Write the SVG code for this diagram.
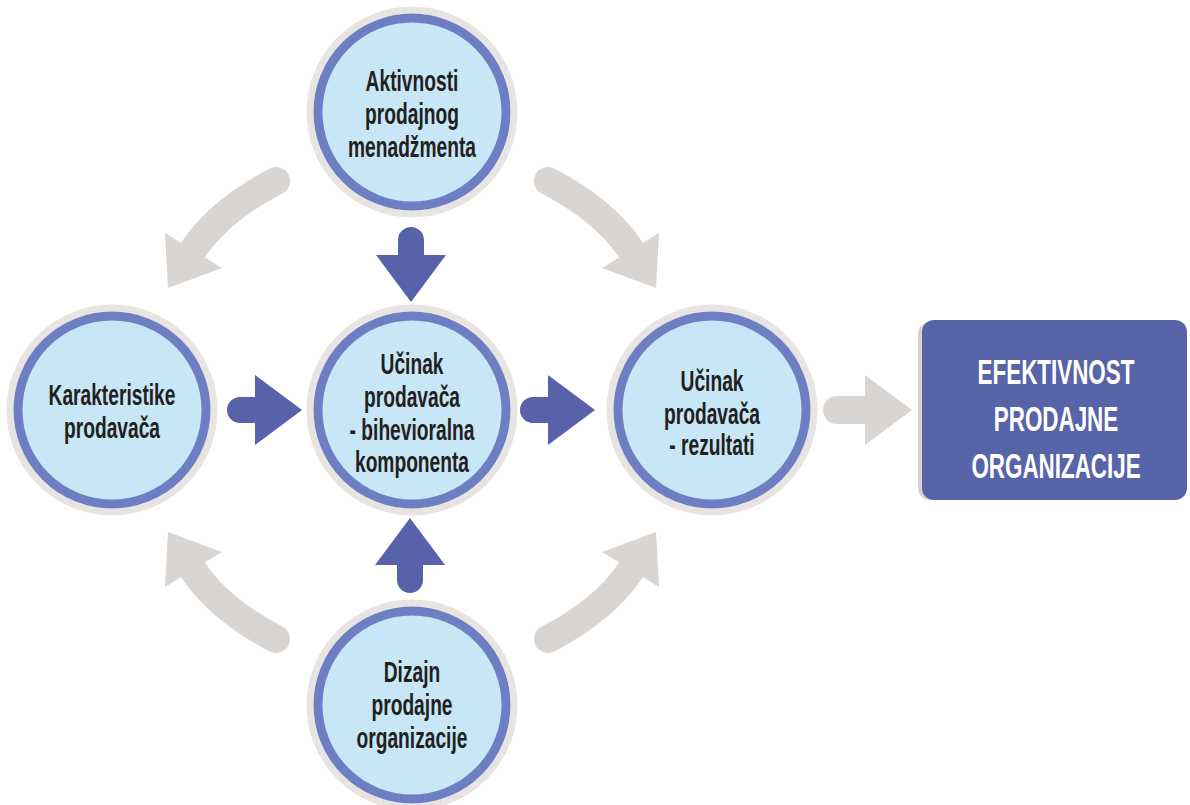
<svg xmlns="http://www.w3.org/2000/svg" width="1190" height="805" viewBox="0 0 1190 805">
<style>
.ring-out{fill:none;stroke:#e8e4e1;stroke-width:7}
.ring{fill:#c7e6f6;stroke:#6d7fc2;stroke-width:9}
.lbl{font-family:"Liberation Sans",Arial,sans-serif;font-weight:bold;font-size:30px;fill:#231f20;text-anchor:middle}
.blbl{font-family:"Liberation Sans",Arial,sans-serif;font-weight:bold;font-size:35px;fill:#ffffff;text-anchor:middle}
.dk{fill:#5762aa}
.gr{fill:#d9d5d3}
.grs{fill:none;stroke:#d9d5d3;stroke-width:28;stroke-linecap:round}
</style>
<defs>
<path id="darr" d="M13,-13 H28 V-35 L75,0 L28,35 V13 H13 A13,13 0 0 1 13,-13 Z"/>
<g id="carr">
<path class="grs" d="M276,181 Q220,210 193,250"/>
<polygon class="gr" points="165,233 222,268 168,288"/>
</g>
</defs>
<rect width="1190" height="805" fill="#ffffff"/>
<g id="connectors">
<use href="#carr"/>
<use href="#carr" transform="translate(824,0) scale(-1,1)"/>
<use href="#carr" transform="translate(0,820) scale(1,-1)"/>
<use href="#carr" transform="translate(824,820) scale(-1,-1)"/>
<use href="#darr" class="dk" transform="translate(227,410)"/>
<use href="#darr" class="dk" transform="translate(520,410)"/>
<use href="#darr" class="dk" transform="translate(411,227) rotate(90)"/>
<use href="#darr" class="dk" transform="translate(410,593) rotate(-90)"/>
<path class="gr" d="M837,396 H865 V375 L912,410 L865,445 V424 H837 A14,14 0 0 1 837,396 Z"/>
</g>
<g id="n-top">
<circle class="ring-out" cx="412" cy="112" r="102"/>
<circle class="ring" cx="412" cy="112" r="94"/>
<g transform="translate(412,0) scale(0.64,1)">
<text class="lbl" x="0" y="91">Aktivnosti</text>
<text class="lbl" x="0" y="124">prodajnog</text>
<text class="lbl" x="0" y="157">menadžmenta</text>
</g>
</g>
<g id="n-left">
<circle class="ring-out" cx="112" cy="410" r="102"/>
<circle class="ring" cx="112" cy="410" r="94"/>
<g transform="translate(112,0) scale(0.64,1)">
<text class="lbl" x="0" y="405">Karakteristike</text>
<text class="lbl" x="0" y="438">prodavača</text>
</g>
</g>
<g id="n-mid">
<circle class="ring-out" cx="412" cy="410" r="102"/>
<circle class="ring" cx="412" cy="410" r="94"/>
<g transform="translate(412,0) scale(0.64,1)">
<text class="lbl" x="0" y="374">Učinak</text>
<text class="lbl" x="0" y="407">prodavača</text>
<text class="lbl" x="0" y="440">- bihevioralna</text>
<text class="lbl" x="0" y="472">komponenta</text>
</g>
</g>
<g id="n-right">
<circle class="ring-out" cx="712" cy="410" r="102"/>
<circle class="ring" cx="712" cy="410" r="94"/>
<g transform="translate(712,0) scale(0.64,1)">
<text class="lbl" x="0" y="391">Učinak</text>
<text class="lbl" x="0" y="424">prodavača</text>
<text class="lbl" x="0" y="455">- rezultati</text>
</g>
</g>
<g id="n-bottom">
<circle class="ring-out" cx="412" cy="705" r="102"/>
<circle class="ring" cx="412" cy="705" r="94"/>
<g transform="translate(412,0) scale(0.64,1)">
<text class="lbl" x="0" y="682">Dizajn</text>
<text class="lbl" x="0" y="715">prodajne</text>
<text class="lbl" x="0" y="748">organizacije</text>
</g>
</g>
<g id="n-box">
<rect x="918" y="322" width="267" height="178" rx="12" fill="#d6d1cd"/>
<rect x="922" y="320" width="265" height="180" rx="12" fill="#5864a8"/>
<g transform="translate(1056,0) scale(0.64,1)">
<text class="blbl" x="0" y="384">EFEKTIVNOST</text>
<text class="blbl" x="0" y="431">PRODAJNE</text>
<text class="blbl" x="0" y="478">ORGANIZACIJE</text>
</g>
</g>
</svg>
